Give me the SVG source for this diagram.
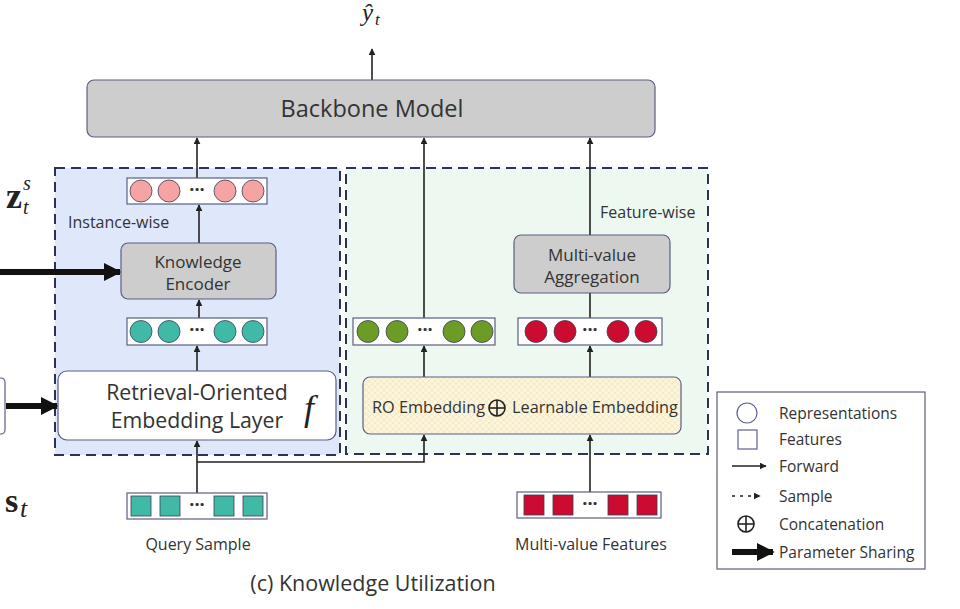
<svg xmlns="http://www.w3.org/2000/svg" width="960" height="609" viewBox="0 0 960 609">
<defs>
<marker id="ah" viewBox="0 0 10 10" refX="9" refY="5" markerWidth="7" markerHeight="7" markerUnits="userSpaceOnUse" orient="auto"><path d="M0,0 L10,5 L0,10 z" fill="#222"/></marker>
<marker id="big" viewBox="0 0 10 10" refX="9" refY="5" markerWidth="18" markerHeight="18" markerUnits="userSpaceOnUse" orient="auto"><path d="M0,0 L10,5 L0,10 z" fill="#111"/></marker>
<pattern id="hatch" width="6" height="6" patternUnits="userSpaceOnUse"><rect width="6" height="6" fill="#fcf5dd"/><path d="M0,0 L6,6 M6,0 L0,6" stroke="#f0e0b0" stroke-width="0.6"/></pattern>
</defs>
<style>
text{font-family:"Open Sans","Noto Sans","Liberation Sans",sans-serif;fill:#333}
.gbox{fill:#cdcdcd;stroke:#5b5f80;stroke-width:1.2}
.row{fill:#fff;stroke:#5b5f80;stroke-width:1.2}
.ln{stroke:#222;stroke-width:1.6;fill:none}
.arr{stroke:#222;stroke-width:1.6;fill:none;marker-end:url(#ah)}
.thick{stroke:#111;stroke-width:6;fill:none;marker-end:url(#big)}
.c{stroke:#3a3f55;stroke-width:0.8}
.dots{font-size:18px;font-weight:bold;fill:#333}
.lab{font-size:16px}
.leg{font-size:15.5px}
text.math{font-family:"Liberation Serif","DejaVu Serif",serif;fill:#222}
</style>
<rect width="960" height="609" fill="#fff"/>

<g id="regions">
<rect x="55" y="168" width="285" height="287" fill="#dfe8fb" stroke="#2a3258" stroke-width="2" stroke-dasharray="10,6"/>
<rect x="346" y="168" width="362" height="286" fill="#edf8f1" stroke="#2a3258" stroke-width="2" stroke-dasharray="10,6"/>
</g>

<g id="connectors">
<line class="arr" x1="372" y1="80" x2="372" y2="49"/>
<line class="arr" x1="197" y1="178" x2="197" y2="138"/>
<line class="arr" x1="199" y1="243" x2="199" y2="205"/>
<line class="arr" x1="199" y1="318" x2="199" y2="300"/>
<line class="arr" x1="197" y1="371" x2="197" y2="346"/>
<line class="arr" x1="197" y1="493" x2="197" y2="441"/>
<polyline class="arr" points="197,462 424,462 424,435"/>
<line class="arr" x1="424" y1="318" x2="424" y2="138"/>
<line class="arr" x1="424" y1="377" x2="424" y2="346"/>
<line class="arr" x1="590" y1="377" x2="590" y2="346"/>
<line class="ln" x1="590" y1="318" x2="590" y2="293"/>
<line class="arr" x1="590" y1="235" x2="590" y2="138"/>
<line class="arr" x1="590" y1="492" x2="590" y2="435"/>
<line class="thick" x1="0" y1="272" x2="120" y2="272"/>
<line class="thick" x1="6" y1="406" x2="57" y2="406"/>
</g>

<g id="yhat">
<text class="math" x="362" y="21" font-size="25" font-style="italic">ŷ</text>
<text class="math" x="375" y="25" font-size="17" font-style="italic">t</text>
</g>

<g id="backbone">
<rect class="gbox" x="87" y="80" width="568" height="57" rx="7"/>
<text x="372" y="117" font-size="23.5" text-anchor="middle">Backbone Model</text>
</g>

<g id="zts">
<text class="math" x="6" y="208" font-size="36" font-weight="bold">z</text>
<text class="math" x="23" y="190" font-size="20" font-style="italic">s</text>
<text class="math" x="23" y="214" font-size="20" font-style="italic">t</text>
</g>

<g id="st">
<text class="math" x="5" y="512" font-size="34" font-weight="bold">s</text>
<text class="math" x="20" y="517" font-size="26" font-style="italic">t</text>
</g>

<g id="left-cut-box">
<rect x="-12" y="378" width="17" height="56" rx="4" fill="#fff" stroke="#5b5f80" stroke-width="1.2"/>
</g>

<g id="pink-row">
<rect class="row" x="127" y="178" width="140" height="26"/>
<circle class="c" cx="141" cy="191" r="11" fill="#f5a3a3"/>
<circle class="c" cx="169" cy="191" r="11" fill="#f5a3a3"/>
<text class="dots" x="197" y="196" text-anchor="middle">···</text>
<circle class="c" cx="225" cy="191" r="11" fill="#f5a3a3"/>
<circle class="c" cx="253" cy="191" r="11" fill="#f5a3a3"/>
</g>

<g id="instance-wise">
<text class="lab" x="68" y="228">Instance-wise</text>
</g>

<g id="knowledge-encoder">
<rect class="gbox" x="121" y="243" width="155" height="56" rx="7"/>
<text x="198" y="268" font-size="17" text-anchor="middle">Knowledge</text>
<text x="198" y="290" font-size="17" text-anchor="middle">Encoder</text>
</g>

<g id="teal-row">
<rect class="row" x="127" y="318" width="140" height="27"/>
<circle class="c" cx="141" cy="331.5" r="11" fill="#40b9a6"/>
<circle class="c" cx="169" cy="331.5" r="11" fill="#40b9a6"/>
<text class="dots" x="197" y="336" text-anchor="middle">···</text>
<circle class="c" cx="225" cy="331.5" r="11" fill="#40b9a6"/>
<circle class="c" cx="253" cy="331.5" r="11" fill="#40b9a6"/>
</g>

<g id="retrieval-layer">
<rect x="58" y="371" width="278" height="69" rx="9" fill="#fff" stroke="#5b5f80" stroke-width="1.2"/>
<text x="197" y="400" font-size="21.3" text-anchor="middle">Retrieval-Oriented</text>
<text x="197" y="428" font-size="21.3" text-anchor="middle">Embedding Layer</text>
<text class="math" x="304" y="420" font-size="36" font-style="italic">f</text>
</g>

<g id="query-sample">
<rect class="row" x="127" y="493" width="140" height="26"/>
<rect class="c" x="131" y="496" width="20" height="20" fill="#40b9a6"/>
<rect class="c" x="160" y="496" width="20" height="20" fill="#40b9a6"/>
<text class="dots" x="197" y="511" text-anchor="middle">···</text>
<rect class="c" x="214" y="496" width="20" height="20" fill="#40b9a6"/>
<rect class="c" x="243" y="496" width="20" height="20" fill="#40b9a6"/>
<text class="lab" x="198" y="550" text-anchor="middle">Query Sample</text>
</g>

<g id="green-row">
<rect class="row" x="353" y="318" width="142" height="27"/>
<circle class="c" cx="368" cy="331.5" r="11" fill="#6c9b26"/>
<circle class="c" cx="397" cy="331.5" r="11" fill="#6c9b26"/>
<text class="dots" x="425" y="336" text-anchor="middle">···</text>
<circle class="c" cx="454" cy="331.5" r="11" fill="#6c9b26"/>
<circle class="c" cx="482" cy="331.5" r="11" fill="#6c9b26"/>
</g>

<g id="red-row">
<rect class="row" x="518" y="318" width="144" height="27"/>
<circle class="c" cx="536" cy="331.5" r="11" fill="#cc0b30"/>
<circle class="c" cx="565" cy="331.5" r="11" fill="#cc0b30"/>
<text class="dots" x="590" y="336" text-anchor="middle">···</text>
<circle class="c" cx="618" cy="331.5" r="11" fill="#cc0b30"/>
<circle class="c" cx="646" cy="331.5" r="11" fill="#cc0b30"/>
</g>

<g id="feature-wise">
<text class="lab" x="600" y="218">Feature-wise</text>
</g>

<g id="multi-value-aggregation">
<rect class="gbox" x="514" y="235" width="156" height="58" rx="7"/>
<text x="592" y="261" font-size="17" text-anchor="middle">Multi-value</text>
<text x="592" y="283" font-size="17" text-anchor="middle">Aggregation</text>
</g>

<g id="ro-embedding">
<rect x="363" y="377" width="318" height="57" rx="7" fill="url(#hatch)" stroke="#5b5f80" stroke-width="1.2"/>
<text x="485" y="413" font-size="16.3" text-anchor="end">RO Embedding</text>
<circle cx="497" cy="408" r="8" fill="none" stroke="#222" stroke-width="1.6"/>
<line x1="489" y1="408" x2="505" y2="408" stroke="#222" stroke-width="1.6"/>
<line x1="497" y1="400" x2="497" y2="416" stroke="#222" stroke-width="1.6"/>
<text x="512" y="413" font-size="16.3">Learnable Embedding</text>
</g>

<g id="multi-value-features">
<rect class="row" x="517" y="492" width="144" height="26"/>
<rect class="c" x="524" y="495" width="20" height="20" fill="#cc0b30"/>
<rect class="c" x="553" y="495" width="20" height="20" fill="#cc0b30"/>
<text class="dots" x="590" y="510" text-anchor="middle">···</text>
<rect class="c" x="608" y="495" width="20" height="20" fill="#cc0b30"/>
<rect class="c" x="637" y="495" width="20" height="20" fill="#cc0b30"/>
<text class="lab" x="591" y="550" text-anchor="middle">Multi-value Features</text>
</g>

<g id="caption">
<text x="373" y="591" font-size="21.5" text-anchor="middle">(c) Knowledge Utilization</text>
</g>

<g id="legend">
<rect x="717" y="392" width="208" height="177" fill="#fff" stroke="#5b5f80" stroke-width="1.2"/>
<circle cx="747" cy="413" r="10" fill="none" stroke="#5b5f9a" stroke-width="1.2"/>
<text class="leg" x="779" y="419">Representations</text>
<rect x="738" y="430" width="19" height="19" fill="none" stroke="#5b5f9a" stroke-width="1.2"/>
<text class="leg" x="779" y="445">Features</text>
<line class="arr" x1="732" y1="466" x2="766" y2="466"/>
<text class="leg" x="779" y="472">Forward</text>
<line x1="732" y1="496" x2="760" y2="496" stroke="#222" stroke-width="1.6" stroke-dasharray="3,5" marker-end="url(#ah)"/>
<text class="leg" x="779" y="502">Sample</text>
<circle cx="746" cy="524" r="8" fill="none" stroke="#222" stroke-width="1.6"/>
<line x1="738" y1="524" x2="754" y2="524" stroke="#222" stroke-width="1.6"/>
<line x1="746" y1="516" x2="746" y2="532" stroke="#222" stroke-width="1.6"/>
<text class="leg" x="779" y="530">Concatenation</text>
<line class="thick" x1="732" y1="552" x2="773" y2="552"/>
<text class="leg" x="779" y="558">Parameter Sharing</text>
</g>
</svg>
